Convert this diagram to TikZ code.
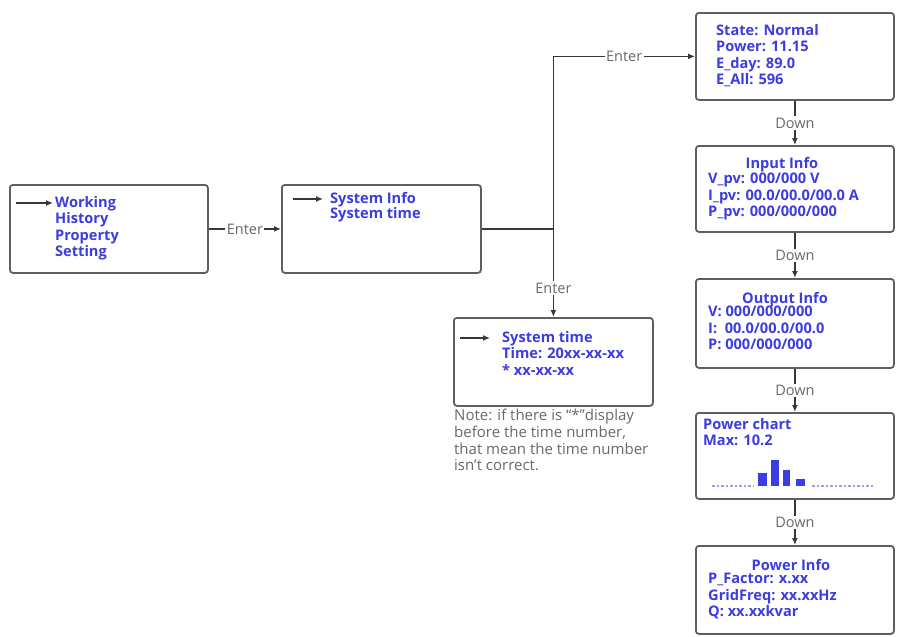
\documentclass[tikz,border=0pt]{standalone}
\usepackage{fontspec}
\setmainfont{Open Sans}
\usetikzlibrary{arrows.meta,positioning}

\definecolor{menublue}{RGB}{60,60,225}
\definecolor{framegray}{RGB}{95,95,95}
\definecolor{linegray}{RGB}{55,55,55}
\definecolor{notegray}{RGB}{105,105,105}

\tikzset{
  panel/.style={draw=framegray, line width=1.8pt, rounded corners=3pt, fill=white,
    anchor=north west, inner sep=0pt, minimum width=198pt, minimum height=88pt},
  menutext/.style={text=menublue, font=\fontsize{14.6}{16.5}\selectfont\bfseries,
    align=left, anchor=north west, inner sep=0pt},
  menutitle/.style={text=menublue, font=\fontsize{14.6}{16.5}\selectfont\bfseries,
    anchor=base, inner sep=0pt},
  notetext/.style={text=notegray, font=\fontsize{15}{16.7}\selectfont,
    align=left, anchor=north west, inner sep=0pt},
  keylabel/.style={text=notegray, fill=white, font=\fontsize{14.5}{15}\selectfont, inner sep=1.5pt},
  link/.style={draw=linegray, line width=1.3pt, -{Latex[length=7pt,width=6pt]}},
  plainlink/.style={draw=linegray, line width=1.3pt},
}

\begin{document}
\begin{tikzpicture}[x=1pt,y=-1pt]
    \useasboundingbox (0,0) rectangle (898,637);

    % Main menu
    \node[panel] (mainbox) at (9,184) {};
    \node[menutext] (mainmenu) at (55,196) {Working\\History\\Property\\Setting};
    \draw[link] ([xshift=-39pt,yshift=-7pt]mainmenu.north west) -- ([xshift=-2pt,yshift=-7pt]mainmenu.north west);

    % System menu
    \node[panel, minimum width=199pt] (sysbox) at (281,184) {};
    \node[menutext] (sysmenu) at (330,192) {System Info\\[-1.5pt]System time};
    \draw[link] ([xshift=-37pt,yshift=-7pt]sysmenu.north west) -- ([xshift=-7pt,yshift=-7pt]sysmenu.north west);

    % System time
    \node[panel, minimum width=199pt] (timebox) at (453,317) {};
    \node[menutext] (timemenu) at (502,331) {System time\\Time: 20xx-xx-xx\\* xx-xx-xx};
    \draw[link] ([xshift=-42pt,yshift=-7pt]timemenu.north west) -- ([xshift=-12pt,yshift=-7pt]timemenu.north west);
    \node[notetext] (note) at (454,409) {Note: if there is “*”display\\before the time number,\\that mean the time number\\isn't correct.};

    % Working pages
    \node[panel, minimum height=87pt] (statebox) at (695,12) {};
    \node[menutext] (statetext) at (716,24) {State: Normal\\Power: 11.15\\E\_day: 89.0\\E\_All: 596};

    \node[panel, minimum height=86pt] (inputbox) at (695,145) {};
    \node[menutitle] (inputtitle) at (782,168) {Input Info};
    \node[menutext] (inputtext) at (708,173) {V\_pv: 000/000 V\\I\_pv: 00.0/00.0/00.0 A\\P\_pv: 000/000/000};

    \node[panel, minimum height=89pt] (outputbox) at (695,278) {};
    \node[menutitle] (outputtitle) at (785,303) {Output Info};
    \node[menutext] (outputtext) at (708,306) {V: 000/000/000\\I:~~00.0/00.0/00.0\\P: 000/000/000};

    \node[panel, minimum height=86pt] (chartbox) at (695,412) {};
    \node[menutext] (charttext) at (703,418) {Power chart\\Max: 10.2};
    % bars of the chart
    \draw[menublue!50, line width=1.6pt, dash pattern=on 2.5pt off 2pt] (712,486) -- (753,486);
    \draw[menublue!50, line width=1.6pt, dash pattern=on 2.5pt off 2pt] (812,486) -- (873,486);
    \fill[menublue] (758,473) rectangle (767,486);
    \fill[menublue] (771,460) rectangle (779,486);
    \fill[menublue] (783,470) rectangle (790,486);
    \fill[menublue] (796,479) rectangle (805,486);

    \node[panel] (powerbox) at (695,545) {};
    \node[menutitle] (powertitle) at (791,570) {Power Info};
    \node[menutext] (powertext) at (708,573) {P\_Factor: x.xx\\GridFreq: xx.xxHz\\Q: xx.xxkvar};

    % Connectors
    \draw[link] (mainbox.east) -- node[keylabel] {Enter} (sysbox.west);
    \coordinate (split) at (timebox.north |- sysbox.east);
    \draw[plainlink] (sysbox.east) -- (split);
    \draw[link] (split) |- node[keylabel, pos=0.75] {Enter} (statebox.west);
    \draw[link] (split) -- node[keylabel, pos=0.67] {Enter} (timebox.north);

    \draw[link] (statebox.south) -- node[keylabel] {Down} (inputbox.north);
    \draw[link] (inputbox.south) -- node[keylabel] {Down} (outputbox.north);
    \draw[link] (outputbox.south) -- node[keylabel] {Down} (chartbox.north);
    \draw[link] (chartbox.south) -- node[keylabel] {Down} (powerbox.north);
\end{tikzpicture}
\end{document}
